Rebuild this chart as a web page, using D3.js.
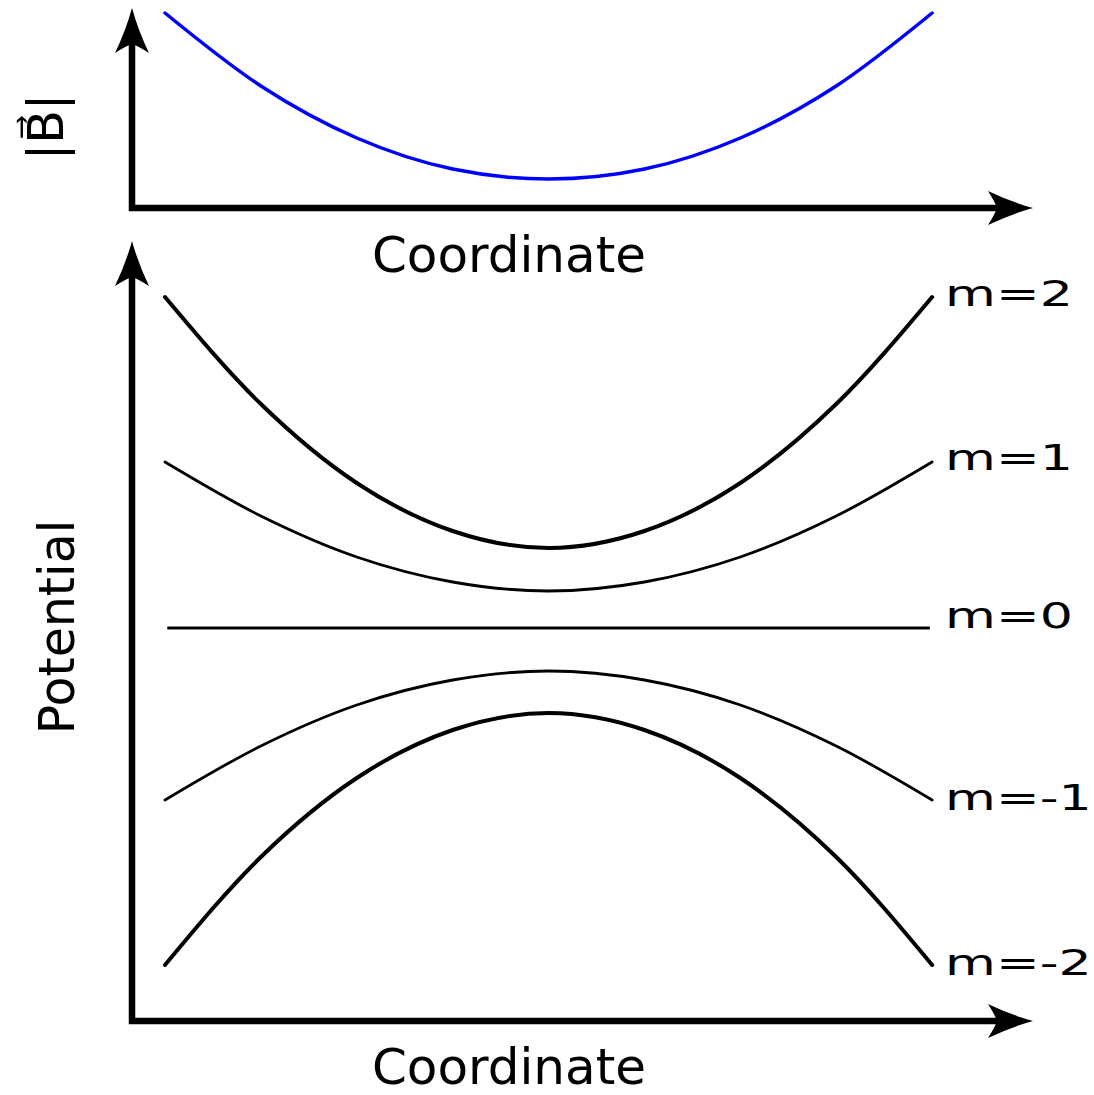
<!DOCTYPE html>
<html>
<head>
<meta charset="utf-8">
<script src="https://cdn.jsdelivr.net/npm/d3@7"></script>
<style>
  body { margin: 0; background: #fff; }
  text { font-family: "DejaVu Sans", sans-serif; }
</style>
</head>
<body>
<svg id="chart" width="1094" height="1095"></svg>
<script>
// Sample positions along the coordinate axis (arbitrary units, trap centre at 0)
const coord = [-1, -0.75, -0.5, -0.25, 0, 0.25, 0.5, 0.75, 1];

// Magnetic field magnitude |B| along the coordinate
const fieldMagnitude = [1.95, 1.22, 0.70, 0.39, 0.29, 0.39, 0.70, 1.22, 1.95];

// Zeeman potential for each magnetic sublevel m
const levelNames = ["m=2", "m=1", "m=0", "m=-1", "m=-2"];
const potentialM2  = [3.31, 2.24, 1.45, 0.97, 0.80, 0.97, 1.45, 2.24, 3.31];
const potentialM1  = [1.66, 1.12, 0.71, 0.46, 0.37, 0.46, 0.71, 1.12, 1.66];
const potentialM0  = [0, 0, 0, 0, 0, 0, 0, 0, 0];
const potentialMm1 = [-1.72, -1.18, -0.77, -0.52, -0.43, -0.52, -0.77, -1.18, -1.72];
const potentialMm2 = [-3.37, -2.29, -1.50, -1.02, -0.85, -1.02, -1.50, -2.29, -3.37];
const potentials = [potentialM2, potentialM1, potentialM0, potentialMm1, potentialMm2];

// Axis titles
const xTitle = "Coordinate";
const yTitleTop = "|B\u20D7|";
const yTitleBottom = "Potential";

const svg = d3.select("#chart");

// Scales
const x = d3.scaleLinear().domain([-1.086, 1.263]).range([132, 1033]);
const yTop = d3.scaleLinear().domain([0, 2]).range([208, 8]);
const yBot = d3.scaleLinear().domain([-3.93, 3.87]).range([1021, 241]);

// Arrowhead pointing along +x, tip at the origin
const arrowPath = "M0,0 Q-22,-6 -45,-17 Q-38,-6 -36,0 Q-38,6 -45,17 Q-22,6 0,0 Z";
const arrowBack = 36;

function drawAxes(yScale) {
  const x0 = x.range()[0], x1 = x.range()[1];
  const y0 = yScale.range()[0], y1 = yScale.range()[1];
  const g = svg.append("g");
  g.append("path")
    .attr("d", d3.line()([[x0, y1 + arrowBack], [x0, y0], [x1 - arrowBack, y0]]))
    .attr("fill", "none")
    .attr("stroke", "#000")
    .attr("stroke-width", 6.5)
    .attr("stroke-linejoin", "miter");
  g.append("path").attr("d", arrowPath)
    .attr("transform", `translate(${x1},${y0})`)
    .attr("fill", "#000");
  g.append("path").attr("d", arrowPath)
    .attr("transform", `translate(${x0},${y1}) rotate(-90)`)
    .attr("fill", "#000");
}

drawAxes(yTop);
drawAxes(yBot);

const smooth = d3.curveMonotoneX;

// |B| curve
const fieldLine = d3.line()
  .x((d, i) => x(coord[i]))
  .y(d => yTop(d))
  .curve(smooth);

svg.append("path")
  .attr("d", fieldLine(fieldMagnitude))
  .attr("fill", "none")
  .attr("stroke", "#0000ff")
  .attr("stroke-width", 3.5)
  .attr("stroke-linecap", "round");

// Potential curves
const potLine = d3.line()
  .x((d, i) => x(coord[i]))
  .y(d => yBot(d))
  .curve(smooth);

const widths = [4, 2.8, 3, 2.8, 4];
const labelDy = [9, 8, 0, 10, 10];

potentials.forEach((vals, k) => {
  const flat = k === 2;
  svg.append("path")
    .attr("d", potLine(vals))
    .attr("fill", "none")
    .attr("stroke", "#000")
    .attr("stroke-width", widths[k])
    .attr("stroke-linecap", flat ? "butt" : "round")
    .attr("transform", flat ? "translate(548.5,0) scale(0.994,1) translate(-548.5,0)" : null);

  const lx = x(coord[coord.length - 1]) + 13;
  const ly = yBot(vals[vals.length - 1]) + labelDy[k];
  svg.append("text")
    .attr("transform", `translate(${lx},${ly}) scale(1.45,1)`)
    .attr("font-size", 36)
    .attr("fill", "#000")
    .text(levelNames[k]);
});

// Axis titles
svg.append("text")
  .attr("x", 509).attr("y", 272)
  .attr("text-anchor", "middle")
  .attr("font-size", 50)
  .text(xTitle);

svg.append("text")
  .attr("x", 509).attr("y", 1084)
  .attr("text-anchor", "middle")
  .attr("font-size", 50)
  .text(xTitle);

svg.append("text")
  .attr("transform", "translate(74,627) rotate(-90)")
  .attr("text-anchor", "middle")
  .attr("font-size", 49)
  .text(yTitleBottom);

svg.append("text")
  .attr("transform", "translate(63,127) rotate(-90)")
  .attr("text-anchor", "middle")
  .attr("font-size", 49)
  .text(yTitleTop);
</script>
</body>
</html>
